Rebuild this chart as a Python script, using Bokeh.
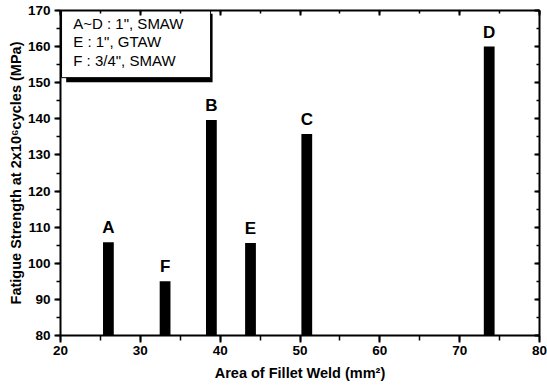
from bokeh.plotting import figure
from bokeh.models import LinearAxis, Range1d, ColumnDataSource, CustomJSTickFormatter
from bokeh.core.properties import value
from bokeh.embed import file_html
from bokeh.resources import INLINE

# ---- data ----
labels = ["A", "F", "B", "E", "C", "D"]
area = [26.0, 33.1, 38.9, 43.8, 50.85, 73.7]          # mm^2
strength = [105.8, 95.0, 139.7, 105.6, 135.8, 160.0]  # MPa
legend_lines = ['A~D : 1", SMAW', 'E : 1", GTAW', 'F : 3/4", SMAW']

FONT = "Liberation Sans"

p = figure(width=547, height=389, output_backend="svg", toolbar_location=None,
           x_range=Range1d(20, 80), y_range=Range1d(80, 170),
           min_border_left=60, min_border_right=8, min_border_top=10, min_border_bottom=54)
p.outline_line_color = None
p.xgrid.visible = False
p.ygrid.visible = False
p.background_fill_color = "white"
p.border_fill_color = "white"

src = ColumnDataSource(dict(x=area, top=strength, lab=labels))
p.vbar(x="x", top="top", bottom=80, width=1.35, source=src,
       fill_color="black", line_color=None)
p.text(x="x", y="top", text="lab", source=src, text_align="center",
       text_baseline="bottom", y_offset=-5,
       text_font=value(FONT), text_font_style="bold", text_font_size="17px",
       text_color="black")

# legend-like box with shadow
p.quad(left=[20.71], right=[39.05], bottom=[150.1], top=[169.1],
       fill_color="black", line_color=None)
p.quad(left=[20.13], right=[38.8], bottom=[151.4], top=[170],
       fill_color="white", line_color="black", line_width=1)
p.text(x=[21.6] * 3, y=[166.4, 161.3, 156.2], text=legend_lines,
       text_align="left", text_baseline="alphabetic",
       text_font=value(FONT), text_font_size="15px", text_color="black")

def style(ax):
    ax.axis_line_width = 2
    ax.axis_line_color = "black"
    ax.major_tick_line_width = 2
    ax.minor_tick_line_width = 1.5
    ax.major_tick_line_color = "black"
    ax.minor_tick_line_color = "black"
    ax.major_label_text_font = FONT
    ax.major_label_text_font_style = "bold"
    ax.major_label_text_font_size = "13.5px"
    ax.major_label_text_color = "black"
    ax.axis_label_text_font = FONT
    ax.axis_label_text_font_style = "bold"
    ax.axis_label_text_font_size = "14.5px"
    ax.axis_label_text_color = "black"

xa = p.xaxis[0]
ya = p.yaxis[0]
style(xa)
style(ya)
xa.ticker.desired_num_ticks = 7
xa.ticker.num_minor_ticks = 2
ya.ticker.desired_num_ticks = 10
ya.ticker.num_minor_ticks = 2
xa.major_tick_out = 7
xa.major_tick_in = 0
xa.minor_tick_out = 5
xa.minor_tick_in = 0
xa.major_label_standoff = 3
xa.axis_label = "Area of Fillet Weld (mm²)"
xa.axis_label_standoff = 7
ya.major_tick_out = 6
ya.major_tick_in = 0
ya.minor_tick_out = 4
ya.minor_tick_in = 0
ya.major_label_standoff = 4
ya.axis_label = "Fatigue Strength at 2x10⁶cycles (MPa)"
ya.axis_label_standoff = 1

top_ax = LinearAxis(formatter=CustomJSTickFormatter(code="return ''"))
right_ax = LinearAxis(formatter=CustomJSTickFormatter(code="return ''"))
for ax in (top_ax, right_ax):
    style(ax)
    ax.major_label_standoff = 0
    ax.ticker.num_minor_ticks = 2
    ax.major_tick_out = 0
    ax.major_tick_in = 5
    ax.minor_tick_out = 0
    ax.minor_tick_in = 3
top_ax.ticker.desired_num_ticks = 7
right_ax.ticker.desired_num_ticks = 10
p.add_layout(top_ax, "above")
p.add_layout(right_ax, "right")

open("out.html", "w").write(file_html(p, INLINE))
